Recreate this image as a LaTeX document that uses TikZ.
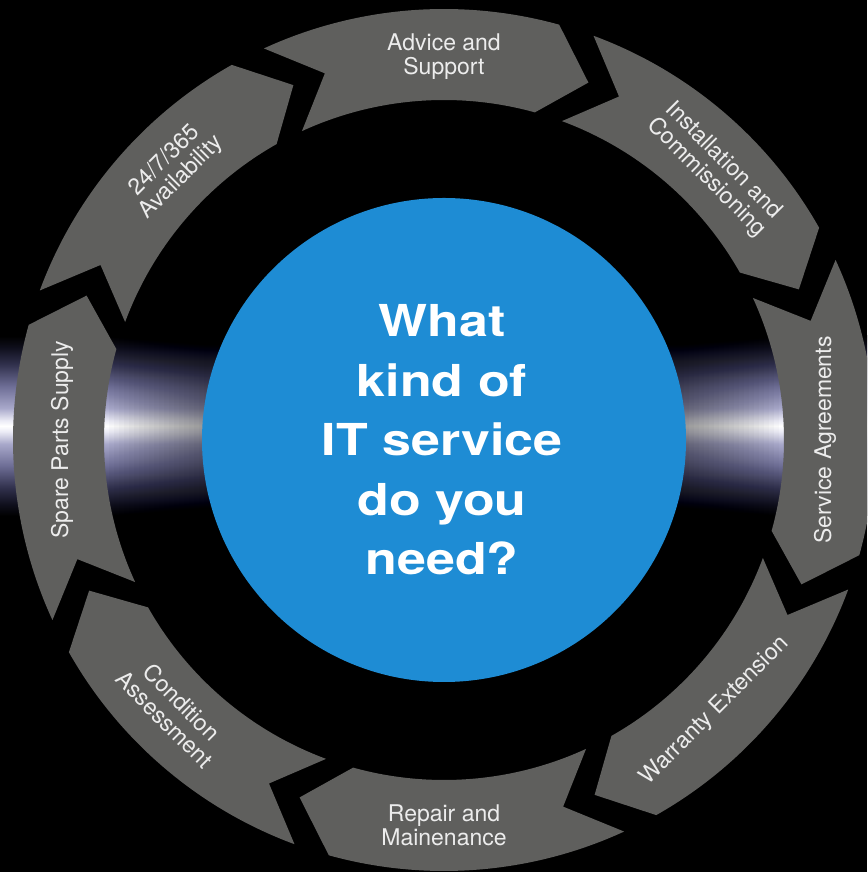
\documentclass[tikz,border=0pt]{standalone}
\usepackage{fontspec}
\setmainfont{TeX Gyre Heros}
\newfontfamily\qfont{TeX Gyre Heros}[FakeStretch=1.18]
\definecolor{ringgrey}{RGB}{95,95,93}
\definecolor{discblue}{RGB}{30,140,212}
\definecolor{labelwhite}{RGB}{236,236,236}
\definecolor{glowA}{RGB}{236,236,246}
\definecolor{glowB}{RGB}{168,168,202}
\definecolor{glowC}{RGB}{110,110,150}
\definecolor{glowD}{RGB}{50,50,78}
\definecolor{glowE}{RGB}{14,14,26}
\pgfdeclareverticalshading{flareshade}{100bp}{color(0bp)=(black); color(25bp)=(black); color(28bp)=(glowE); color(33bp)=(glowD); color(39bp)=(glowC); color(45bp)=(glowB); color(48.5bp)=(glowA); color(50bp)=(white); color(51.5bp)=(glowA); color(55bp)=(glowB); color(61bp)=(glowC); color(67bp)=(glowD); color(72bp)=(glowE); color(75bp)=(black); color(100bp)=(black)}
\tikzset{
  lbl/.style={text=labelwhite, font=\fontsize{23}{24}\selectfont, align=center, inner sep=0pt},
  qtext/.style={text=white, font=\qfont\bfseries\fontsize{44}{59.5}\selectfont, align=center, inner sep=0pt},
  arrowseg/.style={fill=ringgrey},
  disc/.style={fill=discblue}
}
\begin{document}
\begin{tikzpicture}[x=1pt,y=1pt]
\useasboundingbox (0,0) rectangle (867,872);
\fill[black] (0,0) rectangle (867,872);
\clip (0,0) rectangle (867,872);
% horizontal light flare
\shade[shading=flareshade] (0,356) rectangle (867,536);
\foreach \k in {1,...,20}{
  \fill[black, opacity=0.025] ({104+5*\k},356) rectangle ({784-5*\k},536);
}
\begin{scope}[shift={(444,432)}]
  % ring of arrow segments
  \foreach \k in {0,...,7}{
    \pgfmathsetmacro\ph{92-45*\k}
    \fill[arrowseg] ({\ph+22.7}:431pt) arc[start angle={\ph+22.7}, end angle={\ph-17.5}, radius=431pt]
      -- ({\ph-24}:385.5pt) -- ({\ph-17.5}:340pt)
      arc[start angle={\ph-17.5}, end angle={\ph+22.7}, radius=340pt]
      -- ({\ph+16}:385.5pt) -- cycle;
  }
  % central disc
  \fill[disc] (0,0) circle[radius=242pt];
  % labels
  \node[lbl] (advice) at (90:383pt) {Advice and\\Support};
  \node[lbl, rotate=-45] (install) at (45:383pt) {Installation and\\Commissioning};
  \node[lbl, rotate=90] (service) at (0:381pt) {Service Agreements};
  \node[lbl, rotate=45] (warranty) at (-45:383pt) {Warranty Extension};
  \node[lbl, rotate=0] (repair) at (-90:385pt) {Repair and\\Mainenance};
  \node[lbl, rotate=-45] (condition) at (-135:383pt) {Condition\\Assessment};
  \node[lbl, rotate=90] (spare) at (180:382pt) {Spare Parts Supply};
  \node[lbl, rotate=45] (avail) at (135:383pt) {24/7/365\\Availability};
  \node[qtext] (question) at (-2,0) {What\\kind of\\IT service\\do you\\need?};
\end{scope}
\end{tikzpicture}
\end{document}
